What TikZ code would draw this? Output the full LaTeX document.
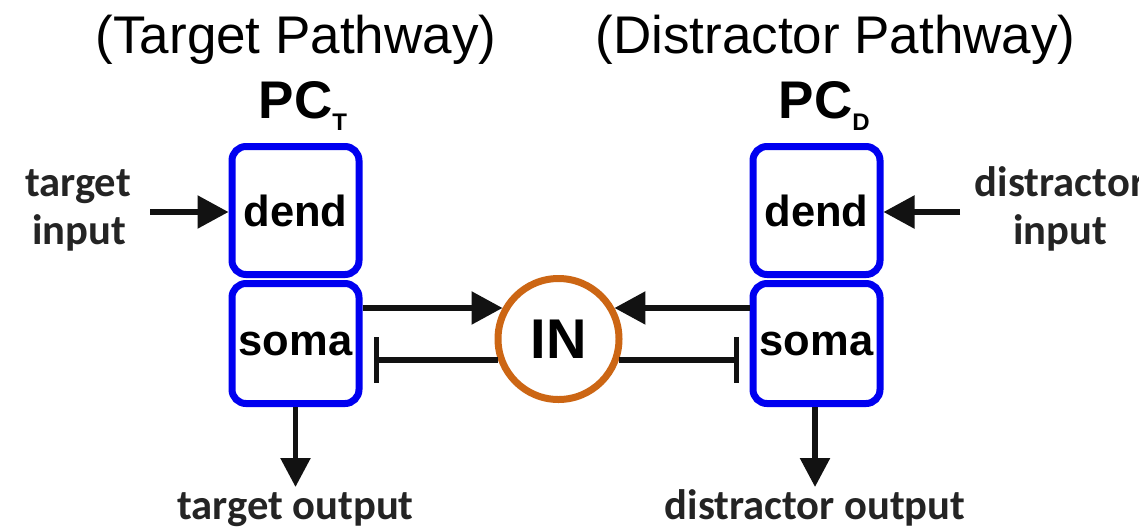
\documentclass[tikz,border=0pt]{standalone}
\usepackage{fontspec}
\setmainfont{Liberation Sans}
\newfontfamily\lblfont{Carlito}
\usetikzlibrary{arrows.meta,calc}
\definecolor{boxblue}{RGB}{0,0,240}
\definecolor{inorange}{RGB}{204,102,20}
\definecolor{ink}{RGB}{18,18,18}
\definecolor{lbl}{RGB}{36,36,36}
\begin{document}
\begin{tikzpicture}[x=1pt,y=-1pt,
  comp/.style={draw=boxblue, line width=7pt, rounded corners=14pt, minimum width=127pt, inner sep=0pt, font=\fontsize{43.5}{43.5}\selectfont\bfseries},
  inbox/.style={circle, draw=inorange, line width=7pt, minimum size=121pt, inner sep=0pt, font=\fontsize{56}{56}\selectfont\bfseries},
  titletext/.style={anchor=base, inner sep=0pt, font=\fontsize{53}{53}\selectfont},
  pctext/.style={anchor=base, inner sep=0pt, font=\fontsize{53}{53}\selectfont\bfseries},
  lbltext/.style={anchor=base, inner sep=0pt, text=lbl, font=\lblfont\fontsize{42.6}{42.6}\selectfont\bfseries},
  exc/.style={draw=ink, line width=5.5pt, -{Triangle[length=31pt,width=32pt]}},
  outarr/.style={draw=ink, line width=5.5pt, -{Triangle[length=29pt,width=29pt]}},
  inh/.style={draw=ink, line width=5.5pt, shorten >=11pt, -{Bar[width=46pt,line width=5pt]}}
]
\useasboundingbox[fill=white] (0,0) rectangle (1139,531);

% titles
\node[titletext] (t1) at (296,53) {(Target Pathway)};
\node[titletext] (t2) at (835.5,53) {(Distractor Pathway)};
\node[pctext] (pcT) at (295.5,118) {PC\rlap{\raisebox{-12pt}{\fontsize{24}{24}\selectfont T}}};
\node[pctext] (pcD) at (815.5,118) {PC\rlap{\raisebox{-12pt}{\fontsize{24}{24}\selectfont D}}};

% compartments
\node[comp, minimum height=128pt] (dendT) at (295.5,210.5) {dend};
\node[comp, minimum height=120pt] (somaT) at (295.5,343.5) {soma};
\node[comp, minimum height=128pt] (dendD) at (816.5,210.5) {dend};
\node[comp, minimum height=120pt] (somaD) at (816.5,343.5) {soma};
\node[inbox] (IN) at (558.5,339) {IN};

% input labels
\node[lbltext] (tin1) at (78,196) {target};
\node[lbltext] (tin2) at (79,244) {input};
\node[lbltext] (din1) at (1060,196) {distractor};
\node[lbltext] (din2) at (1060,244) {input};

% output labels
\node[lbltext] (tout) at (295.5,519) {target output};
\node[lbltext] (dout) at (815,519) {distractor output};

% inputs
\coordinate (tinS) at (150,212);
\coordinate (dinS) at (960,212);
\draw[exc] (tinS) -- (tinS -| dendT.west);
\draw[exc] (dinS) -- (dinS -| dendD.east);

% PC <-> IN
\draw[exc] (somaT.east |- IN.151) -- (IN.151);
\draw[exc] (somaD.west |- IN.29) -- (IN.29);
\draw[inh] (IN.199) -- (IN.199 -| somaT.east);
\draw[inh] (IN.341) -- (IN.341 -| somaD.west);

% outputs
\coordinate (toutE) at (295.5,487);
\coordinate (doutE) at (815,487);
\draw[outarr] (somaT.south) -- (toutE);
\draw[outarr] (somaD.south -| doutE) -- (doutE);
\end{tikzpicture}
\end{document}
